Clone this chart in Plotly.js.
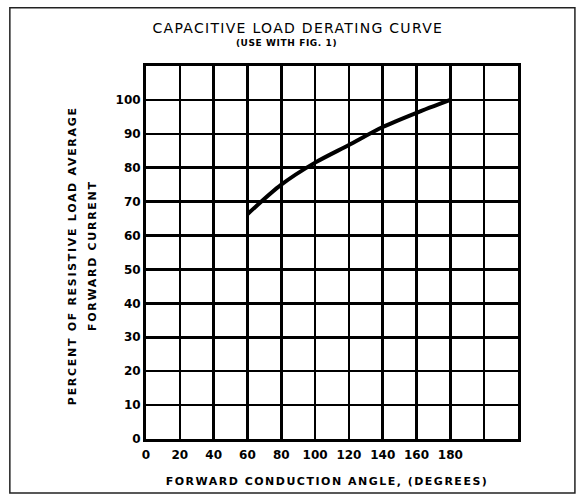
<!DOCTYPE html>
<html>
<head>
<meta charset="utf-8">
<script src="https://cdn.plot.ly/plotly-3.0.1.min.js"></script>
<style>
html,body{margin:0;padding:0;background:#fff;}
#chart{width:579px;height:494px;}
g.annotation[data-index="0"] text{letter-spacing:1.3px;}
g.annotation[data-index="1"] text{letter-spacing:0.6px;}
g.annotation[data-index="2"] text{letter-spacing:1.5px;}
g.annotation[data-index="3"] text{letter-spacing:1.7px;}
g.annotation[data-index="4"] text{letter-spacing:1.7px;}
</style>
</head>
<body>
<div id="chart"></div>
<script>
// Data
var angleDeg = [60, 80, 100, 120, 140, 160, 180];
var percentCurrent = [66.3, 75.0, 81.5, 86.7, 92.0, 96.2, 100.0];

var xTickVals = [0, 20, 40, 60, 80, 100, 120, 140, 160, 180, 200, 220];
var xTickText = ["0", "20", "40", "60", "80", "100", "120", "140", "160", "180", "", ""];
var yTickVals = [0, 10, 20, 30, 40, 50, 60, 70, 80, 90, 100, 110];
var yTickText = ["0", "10", "20", "30", "40", "50", "60", "70", "80", "90", "100", ""];

var chartTitle = "CAPACITIVE LOAD DERATING CURVE";
var chartSubtitle = "(USE WITH FIG. 1)";
var xTitle = "FORWARD CONDUCTION ANGLE, (DEGREES)";
var yTitleLine1 = "PERCENT OF RESISTIVE LOAD AVERAGE";
var yTitleLine2 = "FORWARD CURRENT";

var fam = "DejaVu Sans, Liberation Sans, Arial, sans-serif";

var trace = {
  x: angleDeg,
  y: percentCurrent,
  type: "scatter",
  mode: "lines",
  line: {color: "#000", width: 4, shape: "spline", smoothing: 0.8},
  hoverinfo: "skip",
  showlegend: false
};

var layout = {
  width: 579,
  height: 494,
  margin: {l: 146, r: 61, t: 66, b: 55},
  paper_bgcolor: "#fff",
  plot_bgcolor: "#fff",
  showlegend: false,
  xaxis: {
    range: [0, 220],
    tickmode: "array",
    tickvals: xTickVals,
    ticktext: xTickText,
    showgrid: true,
    gridcolor: "#000",
    gridwidth: 2.5,
    zeroline: false,
    showline: true,
    linecolor: "#000",
    linewidth: 3,
    mirror: true,
    ticks: "",
    ticklabelstandoff: 3,
    tickfont: {family: fam, size: 12, color: "#000", weight: "bold"},
    fixedrange: true
  },
  yaxis: {
    range: [0, 110],
    tickmode: "array",
    tickvals: yTickVals,
    ticktext: yTickText,
    showgrid: true,
    gridcolor: "#000",
    gridwidth: 2.5,
    zeroline: false,
    showline: true,
    linecolor: "#000",
    linewidth: 3,
    mirror: true,
    ticks: "",
    tickfont: {family: fam, size: 12, color: "#000", weight: "bold"},
    fixedrange: true
  },
  annotations: [
    {text: chartTitle, xref: "paper", yref: "paper", x: 0.409, y: 1.102, xanchor: "center", yanchor: "middle",
     showarrow: false, font: {family: fam, size: 14, color: "#000"}},
    {text: chartSubtitle, xref: "paper", yref: "paper", x: 0.379, y: 1.061, xanchor: "center", yanchor: "middle",
     showarrow: false, font: {family: fam, size: 9, color: "#000", weight: "bold"}},
    {text: xTitle, xref: "paper", yref: "paper", x: 0.486, y: -0.115, xanchor: "center", yanchor: "middle",
     showarrow: false, font: {family: fam, size: 11, color: "#000", weight: "bold"}},
    {text: yTitleLine1, xref: "paper", yref: "paper", x: -0.199, y: 0.493, xanchor: "center", yanchor: "middle",
     textangle: -90, showarrow: false, font: {family: fam, size: 11, color: "#000", weight: "bold"}},
    {text: yTitleLine2, xref: "paper", yref: "paper", x: -0.145, y: 0.493, xanchor: "center", yanchor: "middle",
     textangle: -90, showarrow: false, font: {family: fam, size: 11, color: "#000", weight: "bold"}}
  ],
  shapes: [
    {type: "rect", xref: "paper", yref: "paper", x0: -0.366, x1: 1.153, y0: -0.145, y1: 1.156,
     line: {color: "#222", width: 1.5}, fillcolor: "rgba(0,0,0,0)", layer: "below"}
  ]
};

Plotly.newPlot("chart", [trace], layout, {displayModeBar: false, staticPlot: true});
</script>
</body>
</html>
